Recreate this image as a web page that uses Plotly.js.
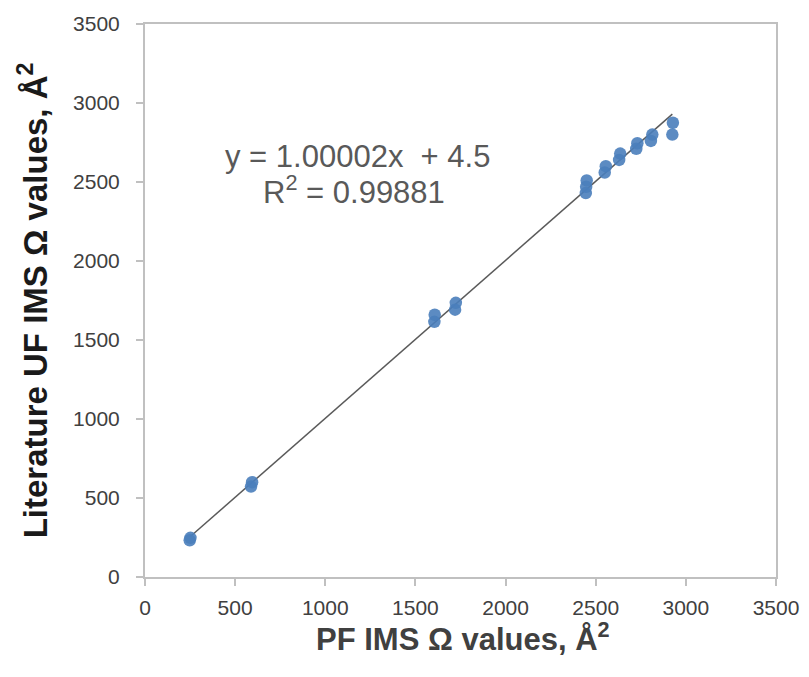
<!DOCTYPE html>
<html>
<head>
<meta charset="utf-8">
<script src="https://cdn.plot.ly/plotly-3.0.1.min.js"></script>
<style>html,body{margin:0;padding:0;background:#fff;}#chart{width:809px;height:677px;}</style>
</head>
<body>
<div id="chart"></div>
<script>
// PF IMS collision cross sections (x) vs literature UF IMS values (y), Å²
const pfValues  = [248, 252, 588, 594, 1605, 1607, 1720, 1724, 2445, 2447, 2450, 2550, 2556, 2630, 2636, 2725, 2731, 2806, 2814, 2925, 2928];
const litValues = [232, 248, 572, 600, 1615, 1660, 1692, 1735, 2430, 2470, 2510, 2560, 2600, 2640, 2680, 2710, 2745, 2760, 2800, 2800, 2875];
const trendSlope = 1.00002;
const trendIntercept = 4.5;
const trendX = [250, 2925];
const trendY = trendX.map(v => trendSlope * v + trendIntercept);
const tickValues = [0, 500, 1000, 1500, 2000, 2500, 3000, 3500];
const eqLines = ["y = 1.00002x  + 4.5", "R<sup>2</sup> = 0.99881"];
const xTitle = 'PF IMS Ω values, Å<sup>2</sup>';
const yTitle = 'Literature UF IMS Ω values, Å<sup>2</sup>';

const FONT = 'Liberation Sans, Arial, sans-serif';
const axisCommon = {
  range: [0, 3500],
  tickvals: tickValues,
  showgrid: false,
  zeroline: false,
  showline: true,
  mirror: true,
  linecolor: '#c0c0c0',
  linewidth: 2,
  ticks: 'outside',
  ticklen: 7,
  tickwidth: 2,
  tickcolor: '#c0c0c0',
  tickfont: {family: FONT, size: 21, color: '#404040'}
};

const traces = [
  {
    x: trendX, y: trendY, mode: 'lines', type: 'scatter',
    line: {color: '#5a5a5a', width: 1.5}, hoverinfo: 'skip', showlegend: false
  },
  {
    x: pfValues, y: litValues, mode: 'markers', type: 'scatter',
    marker: {color: '#4a7ebb', size: 12.5, opacity: 0.9, line: {width: 0}},
    showlegend: false
  }
];

const pw = 809 - 145 - 33, ph = 677 - 24 - 100;
const px2x = p => (p - 145) / pw;
const px2y = p => 1 - (p - 24) / ph;

const layout = {
  width: 809, height: 677,
  margin: {l: 145, r: 33, t: 24, b: 100},
  paper_bgcolor: '#ffffff', plot_bgcolor: '#ffffff',
  xaxis: Object.assign({}, axisCommon, {ticklabelstandoff: 4}),
  yaxis: Object.assign({}, axisCommon, {
    ticklabelstandoff: 12,
    title: {text: yTitle, font: {family: FONT, size: 33, color: '#1a1a1a', weight: 'bold'}, standoff: 16}
  }),
  annotations: [
    {x: px2x(357), y: px2y(157), text: eqLines[0], font: {family: FONT, size: 31, color: '#595959'}},
    {x: px2x(354), y: px2y(190), text: eqLines[1], font: {family: FONT, size: 31, color: '#595959'}},
    {x: px2x(463), y: px2y(637), text: xTitle, font: {family: FONT, size: 31, color: '#404040', weight: 'bold'}}
  ].map(a => Object.assign(a, {
    xref: 'paper', yref: 'paper', xanchor: 'center', yanchor: 'middle', showarrow: false
  }))
};

Plotly.newPlot('chart', traces, layout, {displayModeBar: false, staticPlot: true});
</script>
</body>
</html>
